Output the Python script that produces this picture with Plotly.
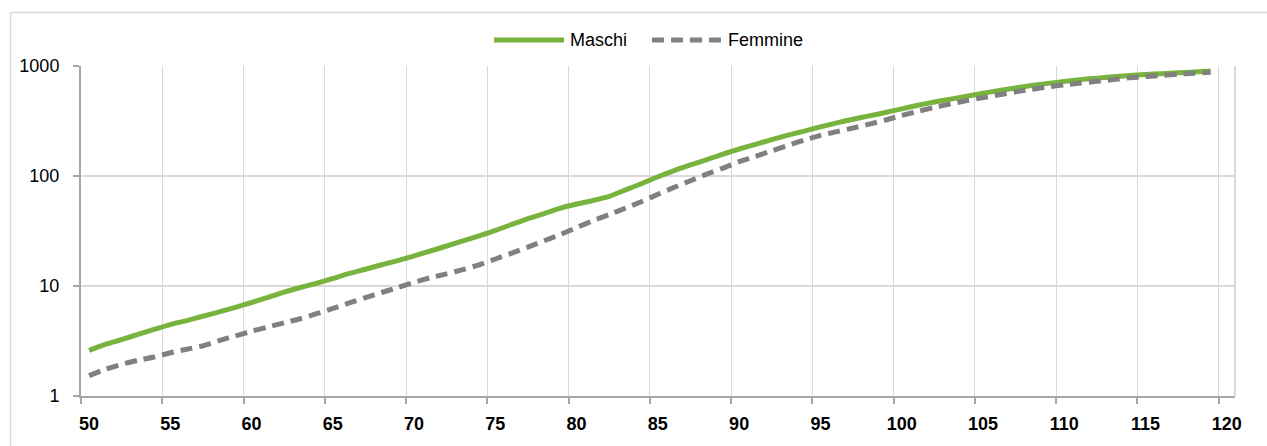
import plotly.graph_objects as go

# Età (anni) e valori per sesso, scala logaritmica
ages = list(range(50, 120))

maschi = [
    2.60, 2.95, 3.26, 3.63, 4.04, 4.46, 4.85, 5.31, 5.82, 6.39,
    7.08, 7.89, 8.81, 9.69, 10.6, 11.7, 13.0, 14.2, 15.6, 17.0,
    18.8, 20.8, 23.1, 25.7, 28.6, 32.0, 36.3, 40.9, 45.6, 51.0,
    55.6, 59.9, 65.3, 74.7, 85.5, 98.4, 112, 126, 141, 158,
    176, 194, 214, 235, 256, 280, 304, 328, 352, 378,
    408, 440, 470, 500, 530, 565, 598, 632, 664, 695,
    725, 752, 776, 798, 818, 836, 852, 867, 883, 900,
]

femmine = [
    1.53, 1.75, 1.94, 2.11, 2.26, 2.47, 2.66, 2.86, 3.19, 3.52,
    3.88, 4.24, 4.63, 5.04, 5.60, 6.25, 7.02, 7.85, 8.73, 9.69,
    10.8, 11.9, 12.9, 14.1, 15.6, 17.6, 19.9, 22.6, 25.8, 29.4,
    34.0, 39.2, 44.6, 51.0, 58.6, 68.3, 78.9, 90.6, 104, 118,
    135, 151, 169, 190, 212, 234, 253, 273, 296, 323,
    355, 388, 420, 452, 484, 516, 548, 582, 615, 646,
    674, 700, 726, 752, 780, 802, 822, 843, 861, 877,
]

x_labels = [str(a) for a in range(50, 121, 5)]
y_ticks = [1, 10, 100, 1000]

GREEN = "#77B33D"
GREY = "#808080"
GRID = "#D9D9D9"
AXIS = "#A6A6A6"
FONT = "Liberation Sans Narrow, Arial Narrow, Liberation Sans, Arial, sans-serif"

W, H = 1267, 446
ML, MR, MT, MB = 81, 32, 66, 50
PW, PH = W - ML - MR, H - MT - MB


def px_x(px):
    return (px - ML) / PW


def px_y(py):
    return (H - MB - py) / PH


fig = go.Figure()
fig.add_trace(go.Scatter(
    x=ages, y=maschi, name="Maschi", mode="lines",
    line=dict(color=GREEN, width=5, shape="spline", smoothing=0.6),
    showlegend=False,
))
fig.add_trace(go.Scatter(
    x=ages, y=femmine, name="Femmine", mode="lines",
    line=dict(color=GREY, width=5, dash="12px,7px", shape="spline", smoothing=0.6),
    showlegend=False,
))

# Category-style axis: gridlines between categories, labels centred on them
fig.update_xaxes(
    range=[49.5, 120.5],
    tickvals=[int(t) - 0.5 for t in x_labels],
    ticktext=x_labels,
    ticklabelshift=8,
    tickfont=dict(family=FONT, size=18, color="#000000", weight="bold"),
    showgrid=True, gridcolor=GRID, gridwidth=1,
    showline=True, linecolor=AXIS, linewidth=2,
    ticks="outside", ticklen=6, tickcolor=AXIS, tickwidth=2,
    ticklabelstandoff=4,
    zeroline=False,
)
fig.update_yaxes(
    type="log",
    range=[0, 3],
    tickvals=y_ticks,
    ticktext=[str(v) for v in y_ticks],
    tickfont=dict(family=FONT, size=18, color="#000000"),
    showgrid=True, gridcolor=GRID, gridwidth=2,
    showline=True, linecolor=AXIS, linewidth=2,
    ticks="outside", ticklen=6, tickcolor=AXIS, tickwidth=2,
    ticklabelstandoff=10,
    zeroline=False,
)

shapes = [
    # outer frame of the chart
    dict(type="rect", xref="paper", yref="paper",
         x0=px_x(10.5), x1=px_x(W + 20), y0=px_y(H + 20), y1=px_y(12.5),
         line=dict(color=GRID, width=1.5), layer="below"),
    # plot-area border (right side)
    dict(type="line", xref="paper", yref="paper",
         x0=1, x1=1, y0=0, y1=1,
         line=dict(color=GRID, width=2), layer="below"),
    # legend samples
    dict(type="line", xref="paper", yref="paper",
         x0=px_x(494), x1=px_x(564), y0=px_y(40), y1=px_y(40),
         line=dict(color=GREEN, width=5)),
    dict(type="line", xref="paper", yref="paper",
         x0=px_x(652), x1=px_x(723), y0=px_y(40), y1=px_y(40),
         line=dict(color=GREY, width=5, dash="12px,7px")),
]

annotations = [
    dict(text="Maschi", xref="paper", yref="paper",
         x=px_x(568), y=px_y(40), xanchor="left", yanchor="middle",
         showarrow=False, font=dict(family=FONT, size=18, color="#000000")),
    dict(text="Femmine", xref="paper", yref="paper",
         x=px_x(726), y=px_y(40), xanchor="left", yanchor="middle",
         showarrow=False, font=dict(family=FONT, size=18, color="#000000")),
]

fig.update_layout(
    width=W, height=H,
    margin=dict(l=ML, r=MR, t=MT, b=MB, pad=0),
    paper_bgcolor="#FFFFFF", plot_bgcolor="#FFFFFF",
    shapes=shapes, annotations=annotations,
    showlegend=False,
)

fig.write_html("out.html")
